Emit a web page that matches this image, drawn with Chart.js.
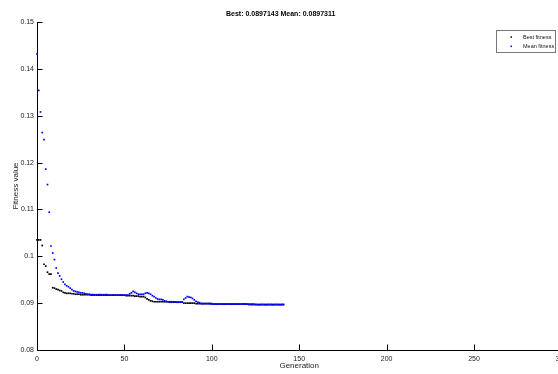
<!DOCTYPE html>
<html>
<head>
<meta charset="utf-8">
<script src="https://cdn.jsdelivr.net/npm/chart.js@4.4.1/dist/chart.umd.min.js"></script>
<style>
  html, body { margin: 0; padding: 0; background: #fff; overflow: hidden; }
  #ga-chart { display: block; }
</style>
</head>
<body>
<canvas id="ga-chart" width="598" height="374" style="width:598px;height:374px"></canvas>
<script>
// fitness per generation (gen 0 .. 141)
const bestFitness = [
  0.1035, 0.1035, 0.1035, 0.1023, 0.0983, 0.0979, 0.0966, 0.0962, 0.0962, 0.0933,
  0.0932, 0.0930, 0.0929, 0.0927, 0.0926, 0.0923, 0.0922, 0.0921, 0.0921, 0.0921,
  0.0920, 0.0920, 0.0919, 0.0919, 0.0919, 0.0918,
  0.0918, 0.0918, 0.0918, 0.0918, 0.0918,
  0.0917, 0.0917, 0.0917, 0.0917, 0.0917, 0.0917, 0.0917, 0.0917, 0.0917, 0.0917,
  0.0917, 0.0917, 0.0917, 0.0917, 0.0917, 0.0917, 0.0917, 0.0917, 0.0917, 0.0917,
  0.0916, 0.0916, 0.0916, 0.0916, 0.0916,
  0.0915, 0.0915, 0.0915,
  0.0914, 0.0914, 0.0914,
  0.0912, 0.0909, 0.0907, 0.0905, 0.0904,
  0.0903, 0.0903, 0.0903, 0.0903, 0.0903, 0.0903, 0.0903, 0.0903, 0.0903,
  0.0902, 0.0902, 0.0902, 0.0902, 0.0902, 0.0902, 0.0902, 0.0902,
  0.0900, 0.0900, 0.0900, 0.0900, 0.0900, 0.0900, 0.0900,
  0.0899, 0.0899, 0.0899, 0.0899, 0.0899, 0.0899, 0.0899, 0.0899, 0.0899, 0.0899,
  0.0898, 0.0898, 0.0898, 0.0898, 0.0898, 0.0898, 0.0898, 0.0898, 0.0898, 0.0898,
  0.0898, 0.0898, 0.0898, 0.0898, 0.0898, 0.0898, 0.0898, 0.0898, 0.0898, 0.0898,
  0.0897, 0.0897, 0.0897, 0.0897, 0.0897, 0.0897, 0.0897, 0.0897, 0.0897, 0.0897,
  0.0897, 0.0897, 0.0897, 0.0897, 0.0897, 0.0897, 0.0897, 0.0897, 0.0897, 0.0897,
  0.0897
];

const meanFitness = [
  0.1432, 0.1354, 0.1308, 0.1264, 0.1249, 0.1186, 0.1153, 0.1094, 0.1022, 0.1007,
  0.0993, 0.0975, 0.0964, 0.0958, 0.0951, 0.0945, 0.0940, 0.0937, 0.0935, 0.0932,
  0.0929, 0.0926, 0.0925, 0.0924, 0.0923, 0.0922, 0.0922, 0.0921, 0.0920, 0.0919,
  0.0919,
  0.0918, 0.0918, 0.0918, 0.0918, 0.0918, 0.0918, 0.0918, 0.0918, 0.0918, 0.0918,
  0.0917, 0.0917, 0.0917, 0.0917, 0.0917, 0.0917, 0.0917, 0.0917, 0.0917, 0.0917,
  0.0917, 0.0917,
  0.0920, 0.0922, 0.0925, 0.0923, 0.0921, 0.0919, 0.0919, 0.0919, 0.0919, 0.0921,
  0.0922, 0.0921, 0.0919, 0.0916, 0.0914, 0.0911, 0.0909, 0.0908, 0.0908, 0.0907,
  0.0905, 0.0904,
  0.0903, 0.0903, 0.0903, 0.0903, 0.0903, 0.0902, 0.0902, 0.0902, 0.0902,
  0.0908, 0.0911, 0.0914, 0.0913, 0.0912, 0.0910, 0.0907, 0.0904, 0.0902, 0.0901,
  0.0899, 0.0899, 0.0899, 0.0899, 0.0899, 0.0899,
  0.0898, 0.0898, 0.0898, 0.0898, 0.0898, 0.0898, 0.0898, 0.0898, 0.0898, 0.0898,
  0.0898, 0.0898, 0.0898, 0.0898, 0.0898, 0.0898, 0.0898, 0.0898, 0.0898, 0.0898,
  0.0898, 0.0898, 0.0898, 0.0898, 0.0898,
  0.0897, 0.0897, 0.0897, 0.0897, 0.0897, 0.0897, 0.0897, 0.0897, 0.0897, 0.0897,
  0.0897, 0.0897, 0.0897, 0.0897, 0.0897, 0.0897, 0.0897
];

const seriesNames = ['Best fitness', 'Mean fitness'];
const titleText = 'Best: 0.0897143 Mean: 0.0897311';

const FONT = "'Liberation Sans', Arial, Helvetica, sans-serif";
const TICK_LEN = 5.5;

// MATLAB style: tick marks point into the axes, legend box top-right
const matlabAxes = {
  id: 'matlabAxes',
  afterDatasetsDraw(chart) {
    const { ctx, chartArea, scales: { x, y } } = chart;
    ctx.save();
    ctx.strokeStyle = '#000';
    ctx.lineWidth = 1;
    ctx.beginPath();
    x.ticks.forEach(t => {
      const px = Math.round(x.getPixelForValue(t.value)) + 0.5;
      ctx.moveTo(px, chartArea.bottom);
      ctx.lineTo(px, chartArea.bottom - TICK_LEN);
    });
    y.ticks.forEach(t => {
      const py = Math.round(y.getPixelForValue(t.value)) + 0.5;
      ctx.moveTo(chartArea.left, py);
      ctx.lineTo(chartArea.left + TICK_LEN, py);
    });
    ctx.stroke();

    // legend
    const bx = Math.round(chartArea.right - 65.5) + 0.5;
    const by = Math.round(chartArea.top + 8) + 0.5;
    const bw = 59, bh = 22;
    ctx.fillStyle = '#fff';
    ctx.fillRect(bx, by, bw, bh);
    ctx.strokeStyle = '#777';
    ctx.strokeRect(bx, by, bw, bh);
    const rows = [
      { label: seriesNames[0], color: '#000' },
      { label: seriesNames[1], color: '#0000ff' }
    ];
    ctx.font = '5.5px ' + FONT;
    ctx.textBaseline = 'middle';
    ctx.textAlign = 'left';
    rows.forEach((r, i) => {
      const cy = by + 6.5 + i * 9.3;
      ctx.fillStyle = r.color;
      ctx.fillRect(bx + 14, cy - 0.7, 1.5, 1.5);
      ctx.fillStyle = '#111';
      ctx.fillText(r.label, bx + 26.5, cy);
    });
    ctx.restore();
  }
};

const ctx = document.getElementById('ga-chart').getContext('2d');
new Chart(ctx, {
  type: 'scatter',
  data: {
    datasets: [
      {
        label: seriesNames[0],
        data: bestFitness.map((v, i) => ({ x: i, y: v })),
        backgroundColor: '#000',
        borderWidth: 0,
        pointStyle: 'rect',
        pointRadius: 1.2,
        clip: false,
        order: 2
      },
      {
        label: seriesNames[1],
        data: meanFitness.map((v, i) => ({ x: i, y: v })),
        backgroundColor: '#0000ff',
        borderWidth: 0,
        pointStyle: 'rect',
        pointRadius: 1.2,
        clip: false,
        order: 1
      }
    ]
  },
  options: {
    responsive: false,
    animation: false,
    devicePixelRatio: 1,
    layout: { padding: { left: 0, right: 36.6, top: 0, bottom: 0 } },
    plugins: {
      legend: { display: false },
      tooltip: { enabled: false },
      title: {
        display: true,
        text: titleText,
        color: '#000',
        font: { family: FONT, size: 7, weight: 'bold' },
        padding: { top: 9.5, bottom: 4.1 }
      }
    },
    scales: {
      x: {
        type: 'linear',
        min: 0,
        max: 300,
        ticks: {
          stepSize: 50,
          color: '#222',
          font: { family: FONT, size: 7 },
          padding: 5,
          maxRotation: 0
        },
        grid: { display: false, drawTicks: false },
        border: { display: true, color: '#000', width: 1 },
        title: {
          display: true,
          text: 'Generation',
          color: '#222',
          font: { family: FONT, size: 8 },
          padding: { top: 0, bottom: 3 }
        },
        afterFit: s => { s.height = 24; s.paddingLeft = 0; s.paddingRight = 0; }
      },
      y: {
        type: 'linear',
        min: 0.08,
        max: 0.15,
        ticks: {
          stepSize: 0.01,
          color: '#222',
          font: { family: FONT, size: 7 },
          padding: 3,
          callback: v => String(+v.toFixed(2))
        },
        grid: { display: false, drawTicks: false },
        border: { display: true, color: '#000', width: 1 },
        title: {
          display: true,
          text: 'Fitness value',
          color: '#222',
          font: { family: FONT, size: 8 },
          padding: { top: 11, bottom: 0 }
        },
        afterFit: s => { s.width = 37; }
      }
    }
  },
  plugins: [matlabAxes]
});
</script>
</body>
</html>
